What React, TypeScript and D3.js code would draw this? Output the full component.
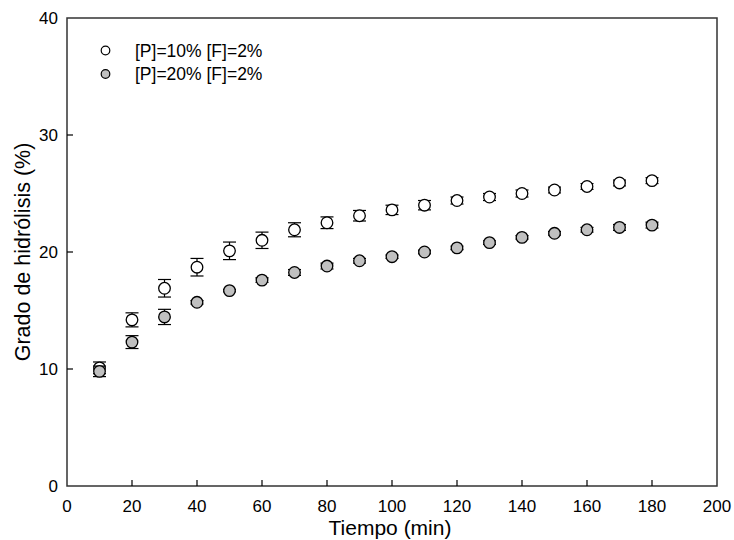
import React from "react";
import * as d3 from "d3";

const times = [10, 20, 30, 40, 50, 60, 70, 80, 90, 100, 110, 120, 130, 140, 150, 160, 170, 180];
const p10Values = [10.1, 14.2, 16.9, 18.7, 20.1, 21.0, 21.9, 22.5, 23.1, 23.6, 24.0, 24.4, 24.7, 25.0, 25.3, 25.6, 25.9, 26.1];
const p10Errors = [0.5, 0.6, 0.75, 0.75, 0.75, 0.7, 0.6, 0.5, 0.45, 0.4, 0.4, 0.3, 0.3, 0.3, 0.25, 0.25, 0.25, 0.25];
const p20Values = [9.8, 12.3, 14.45, 15.7, 16.7, 17.6, 18.25, 18.8, 19.25, 19.6, 20.0, 20.35, 20.8, 21.25, 21.6, 21.9, 22.1, 22.3];
const p20Errors = [0.45, 0.55, 0.65, 0.15, 0.1, 0.2, 0.25, 0.25, 0.2, 0.15, 0.15, 0.15, 0.15, 0.15, 0.15, 0.2, 0.25, 0.25];
const xTicks = [0, 20, 40, 60, 80, 100, 120, 140, 160, 180, 200];
const yTicks = [0, 10, 20, 30, 40];
const legendLabels = ["[P]=10% [F]=2%", "[P]=20% [F]=2%"];

const W = 734;
const H = 540;
const L = 67, R = 717, T = 18, B = 486;
const FONT = "Arial, 'Liberation Sans', sans-serif";

export default function App() {
  const x = d3.scaleLinear().domain([0, 200]).range([L, R]);
  const y = d3.scaleLinear().domain([0, 40]).range([B, T]);
  const series = [
    { values: p10Values, errors: p10Errors, fill: "#ffffff" },
    { values: p20Values, errors: p20Errors, fill: "#c0c0c0" },
  ];
  const cap = 6.5;
  return (
    <svg width={W} height={H} style={{ position: "absolute", left: 0, top: 0, background: "#fff" }}>
      <rect x={0} y={0} width={W} height={H} fill="#fff" />
      <rect x={L} y={T} width={R - L} height={B - T} fill="none" stroke="#333" strokeWidth={1.5} />
      {xTicks.map((t) => (
        <g key={"xt" + t}>
          {t > 0 && t < 200 && <line x1={x(t)} x2={x(t)} y1={B} y2={B - 6} stroke="#000" strokeWidth={1.2} />}
          <text x={x(t)} y={512} fontSize={17} fontFamily={FONT} textAnchor="middle" fill="#000">{t}</text>
        </g>
      ))}
      {yTicks.map((t) => (
        <g key={"yt" + t}>
          {t > 0 && t < 40 && <line x1={L} x2={L + 6} y1={y(t)} y2={y(t)} stroke="#000" strokeWidth={1.2} />}
          <text x={58} y={y(t) + 6} fontSize={17} fontFamily={FONT} textAnchor="end" fill="#000">{t}</text>
        </g>
      ))}
      <text x={(L + R) / 2 - 2} y={535} fontSize={21} fontFamily={FONT} textAnchor="middle" fill="#000">Tiempo (min)</text>
      <text transform={`translate(30, ${(T + B) / 2}) rotate(-90)`} fontSize={21.5} fontFamily={FONT} textAnchor="middle" fill="#000">Grado de hidrólisis (%)</text>
      {series.map((s, si) => (
        <g key={"s" + si}>
          {times.map((t, i) => {
            const cx = x(t);
            const v = s.values[i];
            const e = s.errors[i];
            return (
              <g key={i}>
                <line x1={cx} x2={cx} y1={y(v + e)} y2={y(v - e)} stroke="#000" strokeWidth={1.2} />
                <line x1={cx - cap} x2={cx + cap} y1={y(v + e)} y2={y(v + e)} stroke="#000" strokeWidth={1.2} />
                <line x1={cx - cap} x2={cx + cap} y1={y(v - e)} y2={y(v - e)} stroke="#000" strokeWidth={1.2} />
                <circle cx={cx} cy={y(v)} r={5.8} fill={s.fill} stroke="#000" strokeWidth={1.3} />
              </g>
            );
          })}
        </g>
      ))}
      {legendLabels.map((lab, i) => (
        <g key={"lg" + i}>
          <circle cx={105.5} cy={50.5 + i * 23.5} r={4.3} fill={series[i].fill} stroke="#000" strokeWidth={1.2} />
          <text x={135} y={50.5 + i * 23.5 + 6} fontSize={17.5} fontFamily={FONT} fill="#000">{lab}</text>
        </g>
      ))}
    </svg>
  );
}
